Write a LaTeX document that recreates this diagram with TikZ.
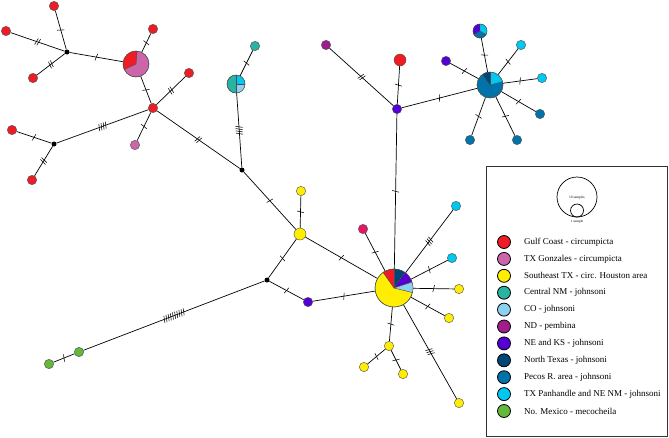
\documentclass[tikz,border=0pt]{standalone}
\usepackage{fontspec}
\setmainfont{Liberation Serif}
\usetikzlibrary{decorations.markings}
\definecolor{cGulf}{RGB}{238,28,36}
\definecolor{cGonz}{RGB}{204,102,170}
\definecolor{cSE}{RGB}{255,238,0}
\definecolor{cCNM}{RGB}{40,180,160}
\definecolor{cCO}{RGB}{140,210,240}
\definecolor{cND}{RGB}{160,30,140}
\definecolor{cNE}{RGB}{85,0,210}
\definecolor{cNT}{RGB}{0,70,120}
\definecolor{cPec}{RGB}{0,115,170}
\definecolor{cPan}{RGB}{0,200,240}
\definecolor{cMex}{RGB}{100,185,60}
\definecolor{cCrim}{RGB}{232,20,100}
\newcommand\pslice[5]{\fill[#5] (#1.center) -- ++(#3:#2pt) arc[start angle=#3, end angle=#4, radius=#2pt] -- cycle;}
\newcommand\pring[2]{\draw[black!70, line width=0.4pt] (#1.center) circle[radius=#2pt];}
\begin{document}
\begin{tikzpicture}[x=1pt,y=-1pt,
  hap/.style={circle, draw=black!70, line width=0.4pt, inner sep=0pt, minimum size=9.4pt, fill=#1},
  hap/.default=white,
  med/.style={circle, fill=black, inner sep=0pt, minimum size=5pt},
  edge/.style={line width=0.7pt, black},
  mut/.style={postaction={decorate, decoration={markings, mark=at position 0.5 with {\foreach \k in {1,...,#1}{\draw[line width=0.55pt] ({(\k-(#1+1)/2)*2.3pt-0.8pt},-3.5pt) -- ++(1.6pt,7pt);}}}}},
  legdot/.style={circle, draw=black, line width=0.8pt, inner sep=0pt, minimum size=13pt, fill=#1},
  legtxt/.style={anchor=west, font=\fontsize{9}{10}\selectfont, inner sep=0pt}
]
\useasboundingbox (0,0) rectangle (669,437);
% haplotype nodes
\node[med] (A) at (67,52) {};
\node[hap=cGulf] (r1) at (54,6) {};
\node[hap=cGulf] (r2) at (6,31) {};
\node[hap=cGulf] (r3) at (33,78) {};
\node[hap=cGonz, minimum size=26pt] (P1) at (136,64) {};
\node[hap=cGulf] (r4) at (153,29) {};
\node[hap=cGulf] (B) at (153,108) {};
\node[hap=cGulf] (r5) at (189,73) {};
\node[hap=cGonz] (pk) at (135,145) {};
\node[med] (C) at (54,144) {};
\node[hap=cGulf] (r6) at (12,130) {};
\node[hap=cGulf] (r7) at (32,180) {};
\node[med] (D) at (242,170) {};
\node[hap=cCNM, minimum size=18pt] (P2) at (236,84) {};
\node[hap=cCNM] (t1) at (255,46) {};
\node[hap=cSE, minimum size=12pt] (Ym) at (300,234) {};
\node[hap=cSE] (Yt) at (301,191) {};
\node[med] (E) at (267,280) {};
\node[hap=cNE] (pu1) at (308,302) {};
\node[hap=cMex] (g1) at (79,352) {};
\node[hap=cMex] (g2) at (49,364) {};
\node[hap=cSE, minimum size=38pt] (BP) at (394,288) {};
\node[hap=cNE] (NH) at (397,109) {};
\node[hap=cND] (nd) at (326,45) {};
\node[hap=cGulf, minimum size=12pt] (r8) at (400,60) {};
\node[hap=cPec, minimum size=26pt] (PH) at (490,85) {};
\node[hap=cPec, minimum size=14pt] (P3) at (480,31) {};
\node[hap=cNE] (pu2) at (446,61) {};
\node[hap=cPan] (c1) at (521,45) {};
\node[hap=cPan] (c2) at (542,78) {};
\node[hap=cPec] (pe1) at (540,114) {};
\node[hap=cPec] (pe2) at (517,140) {};
\node[hap=cPec] (pe3) at (470,140) {};
\node[hap=cCrim] (cr) at (363,229) {};
\node[hap=cPan] (c3) at (456,206) {};
\node[hap=cPan] (c4) at (452,258) {};
\node[hap=cSE] (y1) at (459,289) {};
\node[hap=cSE] (y2) at (449,318) {};
\node[hap=cSE] (Yc) at (389,346) {};
\node[hap=cSE] (y3) at (459,403) {};
\node[hap=cSE] (y4) at (364,367) {};
\node[hap=cSE] (y5) at (403,374) {};
% edges
\draw[edge, mut=1] (A) -- (r1);
\draw[edge, mut=2] (A) -- (r2);
\draw[edge, mut=2] (A) -- (r3);
\draw[edge, mut=1] (A) -- (P1);
\draw[edge, mut=1] (P1) -- (r4);
\draw[edge, mut=1] (P1) -- (B);
\draw[edge, mut=2] (B) -- (r5);
\draw[edge, mut=1] (B) -- (pk);
\draw[edge, mut=4] (B) -- (C);
\draw[edge, mut=2] (B) -- (D);
\draw[edge, mut=1] (C) -- (r6);
\draw[edge, mut=2] (C) -- (r7);
\draw[edge, mut=4] (D) -- (P2);
\draw[edge, mut=1] (P2) -- (t1);
\draw[edge, mut=1] (D) -- (Ym);
\draw[edge, mut=1] (Ym) -- (Yt);
\draw[edge, mut=1] (Ym) -- (E);
\draw[edge, mut=1] (Ym) -- (BP);
\draw[edge, mut=1] (E) -- (pu1);
\draw[edge, mut=1] (pu1) -- (BP);
\draw[edge, mut=10] (E) -- (g1);
\draw[edge, mut=1] (g1) -- (g2);
\draw[edge, mut=1] (BP) -- (NH);
\draw[edge, mut=2] (NH) -- (nd);
\draw[edge, mut=1] (NH) -- (r8);
\draw[edge, mut=1] (NH) -- (PH);
\draw[edge, mut=1] (PH) -- (P3);
\draw[edge, mut=1] (PH) -- (pu2);
\draw[edge, mut=1] (PH) -- (c1);
\draw[edge, mut=1] (PH) -- (c2);
\draw[edge, mut=1] (PH) -- (pe1);
\draw[edge, mut=1] (PH) -- (pe2);
\draw[edge, mut=1] (PH) -- (pe3);
\draw[edge, mut=1] (BP) -- (cr);
\draw[edge, mut=3] (BP) -- (c3);
\draw[edge, mut=1] (BP) -- (c4);
\draw[edge, mut=1] (BP) -- (y1);
\draw[edge, mut=1] (BP) -- (y2);
\draw[edge, mut=1] (BP) -- (Yc);
\draw[edge, mut=3] (BP) -- (y3);
\draw[edge, mut=1] (Yc) -- (y4);
\draw[edge, mut=1] (Yc) -- (y5);
% pie slices
\pslice{P1}{13}{85}{205}{cGulf}
\draw[black!70, line width=0.4pt] ([shift={(85:13pt)}]P1.center) -- (P1.center) -- ([shift={(205:13pt)}]P1.center);
\pring{P1}{13}
\pslice{P2}{9}{0}{90}{cPan}
\pslice{P2}{9}{-90}{0}{cCO}
\draw[black!70, line width=0.4pt] ([shift={(90:9pt)}]P2.center) -- ([shift={(270:9pt)}]P2.center);
\draw[black!70, line width=0.4pt] (P2.center) -- ([shift={(0:9pt)}]P2.center);
\pring{P2}{9}
\pslice{P3}{7}{90}{210}{cNE}
\pslice{P3}{7}{-30}{90}{cPan}
\draw[black!70, line width=0.4pt] ([shift={(90:7pt)}]P3.center) -- (P3.center) -- ([shift={(210:7pt)}]P3.center);
\draw[black!70, line width=0.4pt] (P3.center) -- ([shift={(-30:7pt)}]P3.center);
\pring{P3}{7}
\pslice{PH}{13}{15}{90}{cPan}
\pslice{PH}{13}{90}{125}{cNT}
\draw[black!70, line width=0.4pt] ([shift={(15:13pt)}]PH.center) -- (PH.center) -- ([shift={(125:13pt)}]PH.center);
\draw[black!70, line width=0.4pt] (PH.center) -- ([shift={(90:13pt)}]PH.center);
\pring{PH}{13}
\pslice{BP}{19}{90}{125}{cGulf}
\pslice{BP}{19}{55}{90}{cNT}
\pslice{BP}{19}{18}{55}{cNE}
\pslice{BP}{19}{-14}{18}{cCO}
\foreach \a in {125,90,55,18,-14}{\draw[black!70, line width=0.4pt] (BP.center) -- ([shift={(\a:19pt)}]BP.center);}
\pring{BP}{19}
% legend
\draw[black!80, line width=0.8pt] (486,166) rectangle (667,436);
\node[circle, draw=black, line width=0.7pt, minimum size=40pt, inner sep=0pt] (big) at (577,197) {};
\node[circle, draw=black, line width=0.7pt, minimum size=13pt, inner sep=0pt] (small) at (577,210.5) {};
\node[font=\fontsize{3.5}{4}\selectfont, inner sep=0pt] (bigl) at (577,198) {10 samples};
\node[font=\fontsize{3.5}{4}\selectfont, inner sep=0pt] (smalll) at (577,222) {1 sample};
\foreach \c/\t [count=\i from 0] in {cGulf/Gulf Coast - circumpicta, cGonz/TX Gonzales - circumpicta, cSE/Southeast TX - circ. Houston area, cCNM/Central NM - johnsoni, cCO/CO - johnsoni, cND/ND - pembina, cNE/NE and KS - johnsoni, cNT/North Texas - johnsoni, cPec/Pecos R. area - johnsoni, cPan/TX Panhandle and NE NM - johnsoni, cMex/No. Mexico - mecocheila}{
  \node[legdot=\c] (ld\i) at (504,{242+16.9*\i}) {};
  \node[legtxt] (lt\i) at (524,{242+16.9*\i}) {\t};
}
\end{tikzpicture}
\end{document}
